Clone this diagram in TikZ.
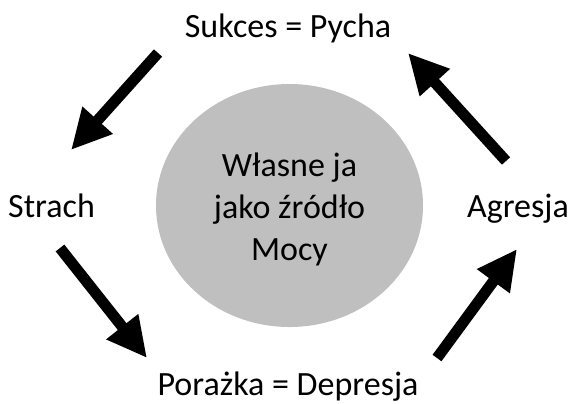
\documentclass[tikz,border=0pt]{standalone}
\usepackage{fontspec}
\setmainfont{Carlito}
\usetikzlibrary{shapes.geometric,arrows.meta}
\begin{document}
\begin{tikzpicture}[x=1bp,y=-1bp,
  lbl/.style={font=\fontsize{34bp}{42bp}\selectfont, text=black, inner sep=0pt},
  bigarrow/.style={line width=11bp, -{Triangle[length=40bp,width=38bp]}},
  core/.style={ellipse, fill=gray!50!white, draw=none, minimum width=267bp, minimum height=243bp, inner sep=0pt}]
\useasboundingbox (0,0) rectangle (571,403);
\node[core] (self) at (289.5,205.5) {};
\node[lbl, align=center] (selftext) at (289.5,209) {Własne ja\\jako źródło\\Mocy};
\node[lbl, anchor=base] (top) at (288,37) {Sukces = Pycha};
\node[lbl, anchor=base west] (left) at (8,217) {Strach};
\node[lbl, anchor=base east] (right) at (569,217) {Agresja};
\node[lbl, anchor=base] (bottom) at (288,395) {Porażka = Depresja};
\coordinate (a1s) at (158,53);  \coordinate (a1e) at (71,150);
\coordinate (a2s) at (506,161); \coordinate (a2e) at (408,53);
\coordinate (a3s) at (60,248);  \coordinate (a3e) at (147,358);
\coordinate (a4s) at (437,358); \coordinate (a4e) at (517,249);
\draw[bigarrow] (a1s) -- (a1e);
\draw[bigarrow] (a3s) -- (a3e);
\draw[bigarrow] (a4s) -- (a4e);
\draw[bigarrow] (a2s) -- (a2e);
\end{tikzpicture}
\end{document}
